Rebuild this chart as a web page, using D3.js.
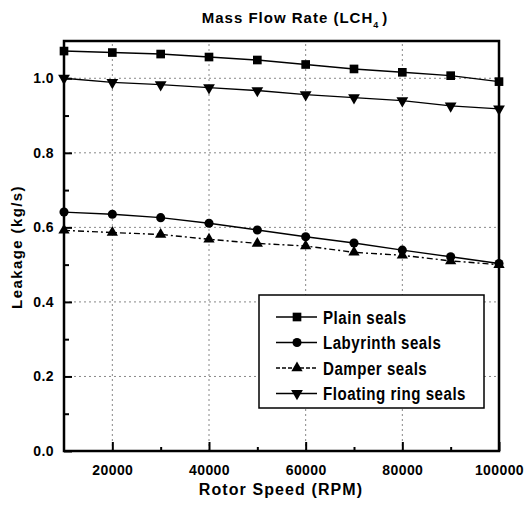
<!DOCTYPE html>
<html>
<head>
<meta charset="utf-8">
<script src="https://cdn.jsdelivr.net/npm/d3@7"></script>
<style>
  body { margin: 0; background: #fff; }
  text { font-family: "Liberation Sans", Arial, sans-serif; font-weight: bold; fill: #000; }
</style>
</head>
<body>
<svg id="chart"></svg>
<script>
var w = 524;
var h = 512;
var margin = {top: 41, right: 25, bottom: 61, left: 64};

var rpm = [10000, 20000, 30000, 40000, 50000, 60000, 70000, 80000, 90000, 100000];
var plain_seals = [1.073, 1.069, 1.065, 1.057, 1.049, 1.037, 1.025, 1.016, 1.007, 0.991];
var labyrinth_seals = [0.641, 0.635, 0.626, 0.611, 0.593, 0.575, 0.558, 0.539, 0.521, 0.503];
var damper_seals = [0.592, 0.586, 0.581, 0.568, 0.557, 0.550, 0.533, 0.525, 0.510, 0.500];
var floating_seals = [1.000, 0.989, 0.983, 0.975, 0.967, 0.956, 0.948, 0.940, 0.926, 0.918];
var series_names = ["Plain seals", "Labyrinth seals", "Damper seals", "Floating ring seals"];
var x_ticks = [20000, 40000, 60000, 80000, 100000];
var y_ticks = [0.0, 0.2, 0.4, 0.6, 0.8, 1.0];

var series = [
  {name: series_names[0], values: plain_seals, symbol: d3.symbolSquare, size: 75, rot: 0, dash: null},
  {name: series_names[1], values: labyrinth_seals, symbol: d3.symbolCircle, size: 65, rot: 0, dash: null},
  {name: series_names[2], values: damper_seals, symbol: d3.symbolTriangle, size: 55, rot: 0, dash: "6,3,2,3"},
  {name: series_names[3], values: floating_seals, symbol: d3.symbolTriangle, size: 60, rot: 180, dash: null}
];

var svg = d3.select("#chart").attr("width", w).attr("height", h);

var x = d3.scaleLinear().domain([10000, 100000]).range([margin.left, w - margin.right]);
var y = d3.scaleLinear().domain([0, 1.1]).range([h - margin.bottom, margin.top]);

// grid
svg.append("g").selectAll("line").data(y_ticks.slice(1)).join("line")
   .attr("x1", x(10000)).attr("x2", x(100000))
   .attr("y1", d => y(d)).attr("y2", d => y(d))
   .style("stroke", "#888").style("stroke-width", "1px").style("stroke-dasharray", "2,3");
svg.append("g").selectAll("line").data(x_ticks.slice(0, -1)).join("line")
   .attr("x1", d => x(d)).attr("x2", d => x(d))
   .attr("y1", y(0)).attr("y2", y(1.1))
   .style("stroke", "#888").style("stroke-width", "1px").style("stroke-dasharray", "2,3");

// axes with inward ticks
var xAxis = d3.axisBottom(x).tickValues(x_ticks).tickSize(-9).tickPadding(14).tickFormat(d3.format("d"));
var xMinor = d3.axisBottom(x).tickValues(d3.range(30000, 100000, 20000)).tickSize(-4).tickFormat("");
var yAxis = d3.axisLeft(y).tickValues(y_ticks).tickSize(-8).tickPadding(10).tickFormat(d3.format(".1f"));
var yMinor = d3.axisLeft(y).tickValues([0.1, 0.3, 0.5, 0.7, 0.9]).tickSize(-5).tickFormat("");

function styleAxis(g) {
  g.select(".domain").remove();
  g.selectAll("line").style("stroke", "#000").style("stroke-width", "2px");
  g.selectAll("text").style("font-size", "14px").style("letter-spacing", "0.4px");
}
svg.append("g").attr("transform", "translate(0," + y(0) + ")").call(xAxis).call(styleAxis);
svg.append("g").attr("transform", "translate(0," + y(0) + ")").call(xMinor).call(styleAxis);
svg.append("g").attr("transform", "translate(" + x(10000) + ",0)").call(yAxis).call(styleAxis);
svg.append("g").attr("transform", "translate(" + x(10000) + ",0)").call(yMinor).call(styleAxis);

// lines and markers
var line = d3.line().x((d, i) => x(rpm[i])).y(d => y(d));
series.forEach(function(s) {
  svg.append("path").datum(s.values)
     .attr("d", line)
     .style("fill", "none").style("stroke", "#000").style("stroke-width", "1.4px")
     .style("stroke-dasharray", s.dash);
  svg.append("g").selectAll("path").data(s.values).join("path")
     .attr("d", d3.symbol().type(s.symbol).size(s.size))
     .attr("transform", (d, i) => "translate(" + x(rpm[i]) + "," + y(d) + ") rotate(" + s.rot + ")")
     .style("fill", "#000");
});

// frame
svg.append("rect")
   .attr("x", x(10000)).attr("y", y(1.1))
   .attr("width", x(100000) - x(10000)).attr("height", y(0) - y(1.1))
   .style("fill", "none").style("stroke", "#000").style("stroke-width", "2.5px");

// legend
var lg = svg.append("g").attr("transform", "translate(259,295)");
lg.append("rect").attr("width", 225).attr("height", 113)
  .style("fill", "#fff").style("stroke", "#000").style("stroke-width", "1.5px");
var labels = [];
series.forEach(function(s, i) {
  var ly = 22 + i * 25.5;
  lg.append("line").attr("x1", 17).attr("x2", 58).attr("y1", ly).attr("y2", ly)
    .style("stroke", "#000").style("stroke-width", "1.4px").style("stroke-dasharray", s.dash ? "4,2" : null);
  lg.append("path").attr("d", d3.symbol().type(s.symbol).size(s.size))
    .attr("transform", "translate(38," + ly + ") rotate(" + s.rot + ")").style("fill", "#000");
  labels.push(lg.append("text").attr("x", 64).attr("y", ly + 6.5).text(s.name)
    .style("font-size", "17.5px").style("letter-spacing", "0.6px"));
});
// narrow the legend glyphs like the condensed face in the original
var longest = d3.max(labels, t => t.node().getComputedTextLength());
var squeeze = 143 / longest;
labels.forEach(function(t) {
  t.attr("textLength", t.node().getComputedTextLength() * squeeze).attr("lengthAdjust", "spacingAndGlyphs");
});

// titles
var title = svg.append("text").attr("x", 295).attr("y", 23).attr("text-anchor", "middle")
   .style("font-size", "15px").style("letter-spacing", "1px");
title.append("tspan").text("Mass Flow Rate (LCH");
title.append("tspan").text("4").attr("dy", 5).style("font-size", "9px");
title.append("tspan").text(")").attr("dx", 3).attr("dy", -5);

svg.append("text").attr("x", 281).attr("y", 495).attr("text-anchor", "middle")
   .style("font-size", "16px").style("letter-spacing", "1.1px").text("Rotor Speed (RPM)");

svg.append("text").attr("transform", "translate(22,247) rotate(-90)").attr("text-anchor", "middle")
   .style("font-size", "15px").style("letter-spacing", "1.4px").text("Leakage (kg/s)");
</script>
</body>
</html>
